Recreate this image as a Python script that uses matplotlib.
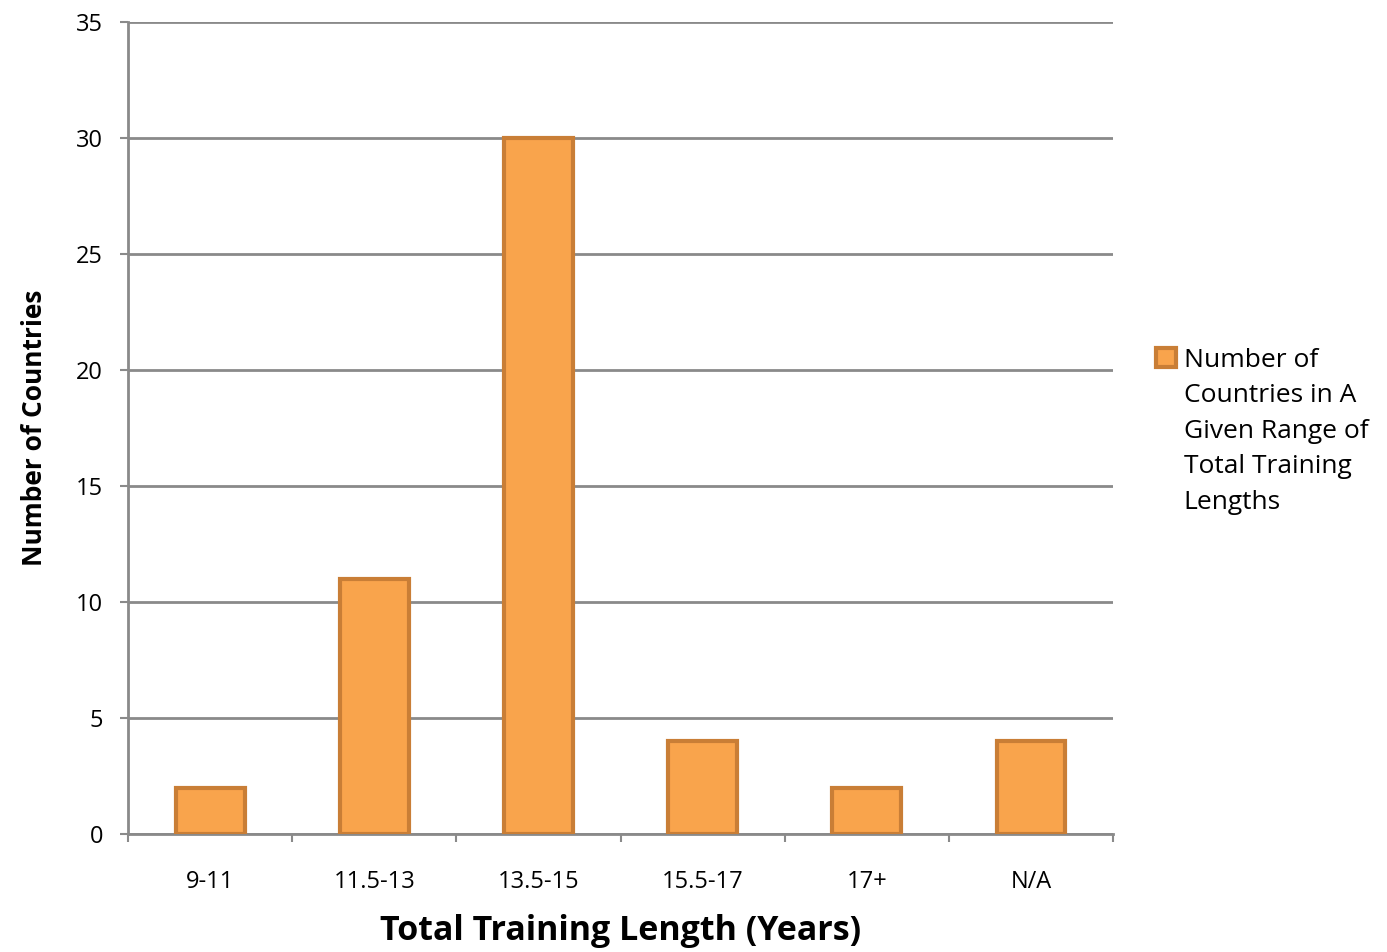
import matplotlib
matplotlib.use("Agg")
import matplotlib.pyplot as plt
import numpy as np

categories = ["9-11", "11.5-13", "13.5-15", "15.5-17", "17+", "N/A"]
counts = [2, 11, 30, 4, 2, 4]
legend_label = "Number of\nCountries in A\nGiven Range of\nTotal Training\nLengths"

plt.rcParams["font.family"] = ["Open Sans", "DejaVu Sans"]

fig = plt.figure(figsize=(13.87, 9.52), dpi=100)
ax = fig.add_axes([0.0923, 0.124, 0.7102, 0.853])

grid_c = "#8a8a8a"
x = np.arange(len(categories))
ax.bar(x, counts, width=0.42, color="#F9A44C", edgecolor="#C97E36",
       linewidth=3, label=legend_label, zorder=3)

ax.set_xlim(-0.5, len(categories) - 0.5)
ax.set_ylim(0, 35)
ax.set_yticks(np.arange(0, 36, 5))
ax.yaxis.grid(True, color=grid_c, linewidth=2, zorder=0)
ax.set_axisbelow(True)

ax.set_xticks(x)
ax.set_xticklabels(categories, fontsize=17)
ax.set_xticks(np.arange(-0.5, len(categories), 1), minor=True)
ax.tick_params(axis="x", which="major", length=0, pad=26)
ax.tick_params(axis="x", which="minor", length=6, width=1.5, color=grid_c)
ax.tick_params(axis="y", labelsize=17, length=6, width=1.5, color=grid_c, pad=12)

for s in ["top", "right"]:
    ax.spines[s].set_visible(False)
for s in ["left", "bottom"]:
    ax.spines[s].set_color(grid_c)
    ax.spines[s].set_linewidth(2)

ax.set_xlabel("Total Training Length (Years)", fontsize=24.5, fontweight="bold", labelpad=14)
ax.set_ylabel("Number of Countries", fontsize=19, fontweight="bold", labelpad=20)

leg = ax.legend(loc="upper left", bbox_to_anchor=(1.033, 0.612), frameon=False,
                fontsize=19, handlelength=0.75, handleheight=0.75, handletextpad=0.3,
                borderaxespad=0)
for t in leg.get_texts():
    t.set_linespacing(1.56)
for col in leg._legend_handle_box.get_children():
    for item in col.get_children():
        item.align = "top"

fig.savefig("out.png", dpi=100)
